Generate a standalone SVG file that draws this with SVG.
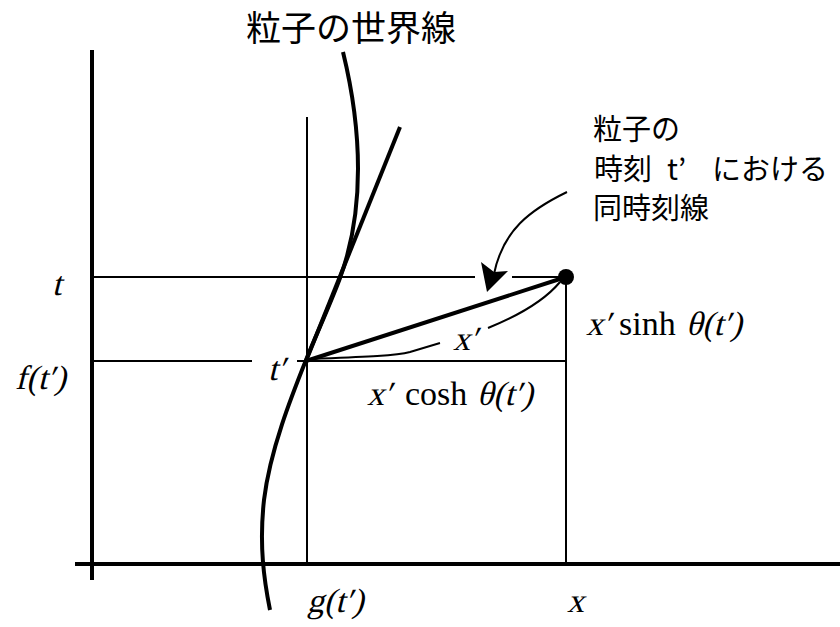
<svg xmlns="http://www.w3.org/2000/svg" width="840" height="627" viewBox="0 0 840 627">
<style>
.thick{stroke:#000;stroke-width:4;fill:none;stroke-linecap:butt}
.thin{stroke:#000;stroke-width:2;fill:none}
.med{stroke:#000;stroke-width:2;fill:none}
.math{font-family:"Liberation Serif",serif;font-size:34px;fill:#000}
.jp{font-family:"Noto Sans CJK JP",sans-serif;fill:#000}
</style>
<rect width="840" height="627" fill="#fff"/>
<g id="axes">
<line class="thick" x1="75" y1="564" x2="840" y2="564"/>
<line class="thick" x1="92" y1="50" x2="92" y2="580"/>
</g>
<g id="guides">
<line class="thin" x1="307" y1="117" x2="307" y2="564"/>
<line class="thin" x1="566" y1="277" x2="566" y2="564"/>
<line class="thin" x1="92" y1="277" x2="475" y2="277"/>
<line class="thin" x1="512" y1="277" x2="566" y2="277"/>
<line class="thin" x1="92" y1="361" x2="252" y2="361"/>
<line class="thin" x1="297" y1="361" x2="566" y2="361"/>
</g>
<g id="worldline">
<path class="thick" d="M343,52 C362,130 365,210 340,278 C330,305 316,335 306,360 C292,395 270,450 264,500 C259,545 264,580 270,610"/>
</g>
<g id="tangent">
<line class="thick" x1="306" y1="361" x2="400" y2="127"/>
</g>
<g id="simultaneity">
<line class="thick" x1="306" y1="361" x2="566" y2="277"/>
<circle cx="566" cy="277" r="8" fill="#000"/>
</g>
<g id="connectors">
<path class="med" d="M308,359 C360,357 395,356 410,352 L440,343"/>
<path class="med" d="M488,328 C520,315 545,300 560,282"/>
<path class="med" d="M567,192 C530,210 503,230 494,274"/>
<polygon points="487,292 481,262 494,272 508,271" fill="#000"/>
</g>
<g id="labels">
<text class="jp" x="246" y="41" font-size="35">粒子の世界線</text>
<text class="jp" x="593" y="140" font-size="29">粒子の</text>
<text class="jp" y="180" font-size="29"><tspan x="594">時刻</tspan><tspan x="667">t’</tspan><tspan x="712">における</tspan></text>
<text class="jp" x="593" y="219" font-size="29">同時刻線</text>
<text class="math" transform="translate(52,295) skewX(-14)">t</text>
<text class="math" transform="translate(15,389) skewX(-14)">f(t′)</text>
<text class="math" transform="translate(268,380) skewX(-14)">t′</text>
<text class="math" transform="translate(453,350) skewX(-14)">x′</text>
<text class="math" transform="translate(367,405) skewX(-14)">x′</text>
<text class="math" x="405" y="405">cosh</text>
<text class="math" transform="translate(477,405) skewX(-14)">θ(t′)</text>
<text class="math" transform="translate(586,335) skewX(-14)">x′</text>
<text class="math" x="619" y="335">sinh</text>
<text class="math" transform="translate(686,335) skewX(-14)">θ(t′)</text>
<text class="math" transform="translate(307,612) skewX(-14)">g(t′)</text>
<text class="math" transform="translate(567,612) skewX(-14)">x</text>
</g>
</svg>
